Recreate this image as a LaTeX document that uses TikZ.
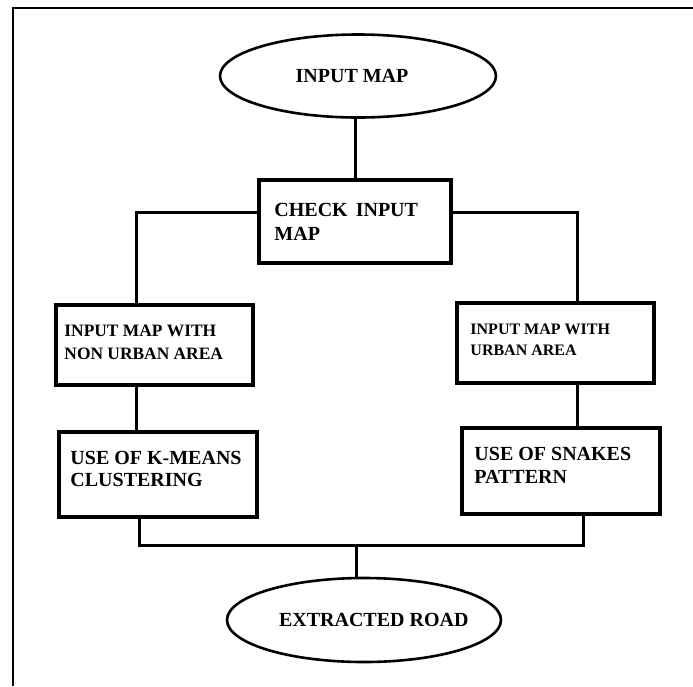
\documentclass[tikz,border=0pt]{standalone}
\usepackage{fontspec}
\setmainfont{Liberation Serif}
\usetikzlibrary{shapes.geometric}
\tikzset{
  conn/.style={line width=3pt},
  flowbox/.style={draw, line width=3.5pt, inner sep=0pt},
  boxtext/.style={anchor=north west, inner sep=0pt, align=left},
  termin/.style={draw, ellipse, line width=2.6pt, inner sep=0pt, font=\bfseries\fontsize{20}{22}\selectfont},
}
\begin{document}
\begin{tikzpicture}[x=1pt, y=-1pt]
\useasboundingbox (0,0) rectangle (693,686);
% outer frame
\draw[line width=2pt] (13,686) -- (13,8) -- (693,8);

\node[termin, minimum width=276pt, minimum height=83pt] (top) at (358,76) {INPUT MAP\hspace*{12pt}};
\node[flowbox, minimum width=192pt, minimum height=83pt] (check) at (355,221.5) {};
\node[flowbox, minimum width=197pt, minimum height=80pt] (lmid) at (154.5,345) {};
\node[flowbox, minimum width=197pt, minimum height=80pt] (rmid) at (555.5,343) {};
\node[flowbox, minimum width=198pt, minimum height=85pt] (lbot) at (158,474.5) {};
\node[flowbox, minimum width=198pt, minimum height=86pt] (rbot) at (561,471) {};
\node[termin, minimum width=274pt, minimum height=84pt] (bot) at (364,620) {\makebox[150pt][l]{\hspace*{-10pt}EXTRACTED ROAD}};

\node[boxtext, font=\bfseries\fontsize{20}{24}\selectfont] (checkT)
  at ([shift={(17,25)}]check.north west) {CHECK\hspace{8pt}INPUT\\MAP};
\node[boxtext, font=\bfseries\fontsize{17.4}{23}\selectfont] (lmidT)
  at ([shift={(10,22)}]lmid.north west) {INPUT MAP WITH\\NON URBAN AREA};
\node[boxtext, font=\bfseries\fontsize{16}{21}\selectfont] (rmidT)
  at ([shift={(15,22)}]rmid.north west) {INPUT MAP WITH\\URBAN AREA};
\node[boxtext, font=\bfseries\fontsize{20}{22}\selectfont] (lbotT)
  at ([shift={(13,21)}]lbot.north west) {USE OF K-MEANS\\CLUSTERING};
\node[boxtext, font=\bfseries\fontsize{20}{23}\selectfont] (rbotT)
  at ([shift={(14,21)}]rbot.north west) {USE OF SNAKES\\PATTERN};

\coordinate (bL) at (136,212);
\coordinate (bR) at (577,212);
\coordinate (mL) at (139,545);
\coordinate (mR) at (583,545);
\coordinate (mC) at (356,545);

\draw[conn] (check.north) -- (check.north |- top.south);
\draw[conn] (check.west |- bL) -- (bL) -- (lmid.north -| bL);
\draw[conn] (check.east |- bR) -- (bR) -- (rmid.north -| bR);
\draw[conn] (lmid.south -| bL) -- (lbot.north -| bL);
\draw[conn] (rmid.south -| bR) -- (rbot.north -| bR);
\draw[conn] (lbot.south -| mL) -- (mL) -- (mR) -- (rbot.south -| mR);
\draw[conn] (mC) -- (mC |- bot.north);
\end{tikzpicture}
\end{document}
